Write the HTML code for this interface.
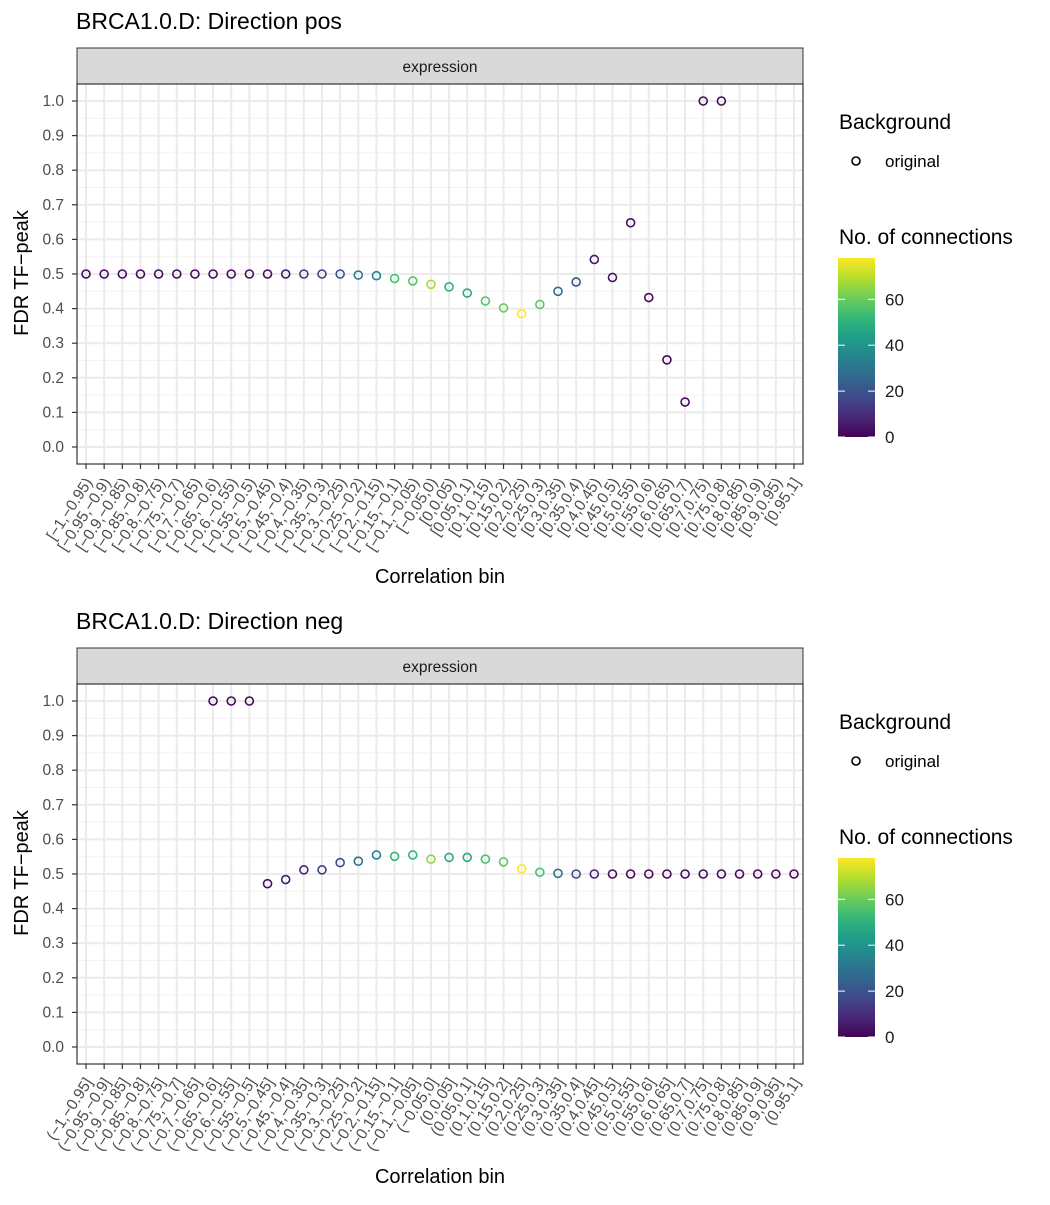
<!DOCTYPE html>
<html><head><meta charset="utf-8"><style>
body{margin:0;background:#fff;}
svg text{font-family:"Liberation Sans",sans-serif;}
</style></head><body>
<svg id="chart" width="1050" height="1200" viewBox="0 0 1050 1200" xmlns="http://www.w3.org/2000/svg"></svg>
<script>
const binsPos = ["[-1,-0.95)","[-0.95,-0.9)","[-0.9,-0.85)","[-0.85,-0.8)","[-0.8,-0.75)","[-0.75,-0.7)","[-0.7,-0.65)","[-0.65,-0.6)","[-0.6,-0.55)","[-0.55,-0.5)","[-0.5,-0.45)","[-0.45,-0.4)","[-0.4,-0.35)","[-0.35,-0.3)","[-0.3,-0.25)","[-0.25,-0.2)","[-0.2,-0.15)","[-0.15,-0.1)","[-0.1,-0.05)","[-0.05,0)","[0,0.05)","[0.05,0.1)","[0.1,0.15)","[0.15,0.2)","[0.2,0.25)","[0.25,0.3)","[0.3,0.35)","[0.35,0.4)","[0.4,0.45)","[0.45,0.5)","[0.5,0.55)","[0.55,0.6)","[0.6,0.65)","[0.65,0.7)","[0.7,0.75)","[0.75,0.8)","[0.8,0.85)","[0.85,0.9)","[0.9,0.95)","[0.95,1]"];
const binsNeg = ["(-1,-0.95]","(-0.95,-0.9]","(-0.9,-0.85]","(-0.85,-0.8]","(-0.8,-0.75]","(-0.75,-0.7]","(-0.7,-0.65]","(-0.65,-0.6]","(-0.6,-0.55]","(-0.55,-0.5]","(-0.5,-0.45]","(-0.45,-0.4]","(-0.4,-0.35]","(-0.35,-0.3]","(-0.3,-0.25]","(-0.25,-0.2]","(-0.2,-0.15]","(-0.15,-0.1]","(-0.1,-0.05]","(-0.05,0]","(0,0.05]","(0.05,0.1]","(0.1,0.15]","(0.15,0.2]","(0.2,0.25]","(0.25,0.3]","(0.3,0.35]","(0.35,0.4]","(0.4,0.45]","(0.45,0.5]","(0.5,0.55]","(0.55,0.6]","(0.6,0.65]","(0.65,0.7]","(0.7,0.75]","(0.75,0.8]","(0.8,0.85]","(0.85,0.9]","(0.9,0.95]","(0.95,1]"];
const fdrPos = [0.5,0.5,0.5,0.5,0.5,0.5,0.5,0.5,0.5,0.5,0.5,0.5,0.5,0.5,0.5,0.497,0.495,0.487,0.48,0.47,0.463,0.445,0.422,0.402,0.385,0.412,0.45,0.477,0.542,0.49,0.648,0.432,0.252,0.13,1.0,1.0,null,null,null,null];
const cntPos = [2,2,2,2,2,2,2,2,2,3,3,4,12,15,20,33,35,55,57,68,50,48,57,60,78,58,28,20,5,4,2,2,2,2,2,2,null,null,null,null];
const fdrNeg = [null,null,null,null,null,null,null,1.0,1.0,1.0,0.472,0.484,0.512,0.512,0.533,0.537,0.555,0.551,0.555,0.543,0.548,0.548,0.543,0.535,0.515,0.505,0.502,0.5,0.5,0.5,0.5,0.5,0.5,0.5,0.5,0.5,0.5,0.5,0.5,0.5];
const cntNeg = [null,null,null,null,null,null,null,2,2,2,3,5,8,14,18,28,35,52,50,65,48,47,55,58,78,55,30,18,8,3,2,2,2,2,2,2,2,2,2,2];
const yTicks = [0.0,0.1,0.2,0.3,0.4,0.5,0.6,0.7,0.8,0.9,1.0];
const cbTicks = [0,20,40,60];
const cntMax = 78;

const NS="http://www.w3.org/2000/svg";
const svg=document.getElementById('chart');
function mk(tag,attrs,parent){const e=document.createElementNS(NS,tag);for(const k in attrs)e.setAttribute(k,attrs[k]);(parent||svg).appendChild(e);return e;}
const vir=[[68,1,84],[72,40,120],[62,74,137],[49,104,142],[38,130,142],[31,158,137],[53,183,121],[109,205,89],[180,222,44],[253,231,37]];
function viridis(t){t=Math.max(0,Math.min(1,t));const p=t*9,i=Math.min(8,Math.floor(p)),f=p-i;const a=vir[i],b=vir[i+1];return `rgb(${a.map((v,k)=>Math.round(v+(b[k]-v)*f)).join(',')})`;}

function panel(off,title,bins,fdr,cnt,nm){
  const L=77,R=803,T=84+off,B=464+off;
  const xS=i=>86+i*(708/39);
  const yS=v=>(447+off)-v*346;
  const g=mk('g',{},svg);
  
  
  let t=mk('text',{x:76,y:29+off,'font-size':23,fill:'#000'},g);t.textContent=title;
  
  let s=mk('rect',{x:L,y:48+off,width:R-L,height:36,fill:'#d9d9d9',stroke:'#333','stroke-width':1},g);
  
  t=mk('text',{x:(L+R)/2,y:72+off,'font-size':15.5,fill:'#1a1a1a','text-anchor':'middle'},g);t.textContent='expression';
  
  for(let k=0;k<yTicks.length-1;k++){const y=yS((yTicks[k]+yTicks[k+1])/2);mk('line',{x1:L,x2:R,y1:y,y2:y,stroke:'#f2f2f2','stroke-width':1},g);}
  yTicks.forEach(v=>{const y=yS(v);mk('line',{x1:L,x2:R,y1:y,y2:y,stroke:'#ebebeb','stroke-width':2},g);
    const tl=mk('text',{x:L-13,y:y+5,'font-size':15.5,fill:'#4d4d4d','text-anchor':'end'},g);tl.textContent=v.toFixed(1);
    
    mk('line',{x1:L-5,x2:L,y1:y,y2:y,stroke:'#333','stroke-width':1.2},g);});
  bins.forEach((b,i)=>{const x=xS(i);mk('line',{x1:x,x2:x,y1:T,y2:B,stroke:'#ebebeb','stroke-width':2},g);
    mk('line',{x1:x,x2:x,y1:B,y2:B+5,stroke:'#333','stroke-width':1.2},g);
    const ax=x+7,ay=B+18;
    const tl=mk('text',{x:ax,y:ay,'font-size':15.5,fill:'#4d4d4d','text-anchor':'end',transform:`rotate(-57 ${ax} ${ay})`},g);tl.textContent=b.replace(/-/g,'\u2212');
    });
  mk('rect',{x:L,y:T,width:R-L,height:B-T,fill:'none',stroke:'#333','stroke-width':1.2},g);
  fdr.forEach((v,i)=>{if(v===null)return;const c=mk('circle',{cx:xS(i),cy:yS(v),r:4,fill:'none',stroke:viridis(cnt[i]/cntMax),'stroke-width':1.6},g);
    });
  t=mk('text',{x:(L+R)/2,y:583+off,'font-size':20,fill:'#000','text-anchor':'middle'},g);t.textContent='Correlation bin';
  
  t=mk('text',{x:28,y:273+off,'font-size':20,fill:'#000','text-anchor':'middle',transform:`rotate(-90 28 ${273+off})`},g);t.textContent='FDR TF\u2212peak';
  
  const lg=mk('g',{},g);
  t=mk('text',{x:839,y:129+off,'font-size':21,fill:'#000'},lg);t.textContent='Background';
  mk('circle',{cx:856,cy:161+off,r:4,fill:'none',stroke:'#000','stroke-width':1.6},lg);
  t=mk('text',{x:885,y:167+off,'font-size':17,fill:'#000'},lg);t.textContent='original';
  t=mk('text',{x:839,y:244+off,'font-size':21,fill:'#000'},lg);t.textContent='No. of connections';
  const gid='grad'+nm;const defs=mk('defs',{},lg);const gr=mk('linearGradient',{id:gid,x1:0,y1:1,x2:0,y2:0},defs);
  vir.forEach((c,k)=>mk('stop',{offset:k/9,'stop-color':`rgb(${c.join(',')})`},gr));
  const cbTop=258+off,cbBot=437+off;
  mk('rect',{x:838,y:cbTop,width:37,height:cbBot-cbTop,fill:`url(#${gid})`},lg);
  cbTicks.forEach(v=>{const y=cbBot-(v/cntMax)*(cbBot-cbTop);
    mk('line',{x1:838,x2:845,y1:y,y2:y,stroke:'#fff','stroke-width':1},lg);mk('line',{x1:868,x2:875,y1:y,y2:y,stroke:'#fff','stroke-width':1},lg);
    const tl=mk('text',{x:885,y:y+6,'font-size':17,fill:'#1a1a1a'},lg);tl.textContent=v;});
}
panel(0,'BRCA1.0.D: Direction pos',binsPos,fdrPos,cntPos,'pos');
panel(600,'BRCA1.0.D: Direction neg',binsNeg,fdrNeg,cntNeg,'neg');
</script>
</body></html>
